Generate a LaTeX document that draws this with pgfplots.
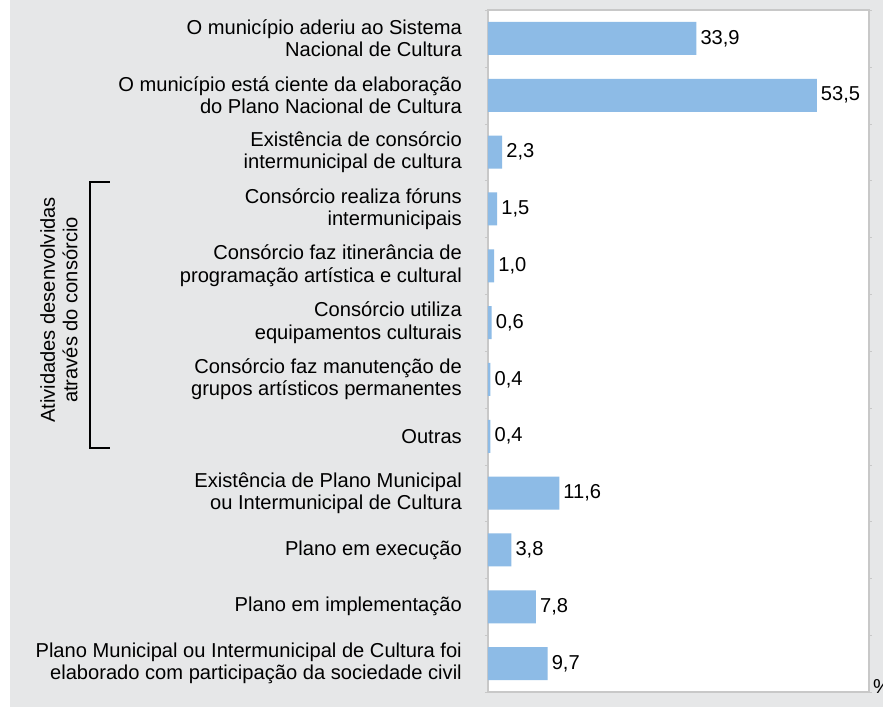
\documentclass[border=0pt]{standalone}
\usepackage{pgfplots}
\pgfplotsset{compat=1.18}
\usepackage{fontspec}
\setmainfont{Liberation Sans}
\definecolor{bggray}{HTML}{E6E7E8}
\definecolor{barblue}{HTML}{8DBBE6}
\definecolor{framegray}{HTML}{C8C8C8}
\newcommand\lbl{\fontsize{20.2}{22.5}\selectfont}

\begin{document}
\begin{tikzpicture}
\useasboundingbox (-488bp,-17bp) rectangle (395bp,692bp);
\fill[bggray] (-478bp,-15bp) rectangle (395bp,692bp);
\begin{axis}[
    at={(0,0)}, anchor=south west,
    scale only axis,
    width=381bp, height=682bp,
    xbar, bar width=33bp,
    xmin=0, xmax=62,
    ymin=-0.5, ymax=11.5,
    y dir=reverse,
    xtick=\empty,
    ytick={0,...,11},
    yticklabels={
      {O município aderiu ao Sistema\\Nacional de Cultura},
      {O município está ciente da elaboração\\do Plano Nacional de Cultura},
      {Existência de consórcio\\intermunicipal de cultura},
      {Consórcio realiza fóruns\\intermunicipais},
      {Consórcio faz itinerância de\\programação artística e cultural},
      {Consórcio utiliza\\equipamentos culturais},
      {Consórcio faz manutenção de\\grupos artísticos permanentes},
      {Outras},
      {Existência de Plano Municipal\\ou Intermunicipal de Cultura},
      {Plano em execução},
      {Plano em implementação},
      {Plano Municipal ou Intermunicipal de Cultura foi\\elaborado com participação da sociedade civil}
    },
    yticklabel style={font=\lbl, align=right, inner sep=0pt, xshift=-26bp},
    major tick length=0pt,
    minor ytick={-0.5,0.5,...,11.5},
    minor tick length=3bp,
    tick align=outside,
    minor tick style={framegray},
    axis line style={framegray, line width=1.2bp},
    axis background/.style={fill=white},
    point meta=x,
    nodes near coords,
    every node near coord/.append style={font=\lbl, black, inner sep=0pt, xshift=4bp,
      /pgf/number format/fixed, /pgf/number format/fixed zerofill,
      /pgf/number format/precision=1, /pgf/number format/use comma,
      /pgf/number format/assume math mode=true},
]
\addplot[fill=barblue, draw=none] coordinates {
  (33.9,0) (53.5,1) (2.3,2) (1.5,3) (1.0,4) (0.6,5)
  (0.4,6) (0.4,7) (11.6,8) (3.8,9) (7.8,10) (9.7,11)
};
\end{axis}
% bracket for the consortium activities
\draw[line width=1.2bp] (-378bp,510bp) -- (-398bp,510bp) -- (-398bp,244bp) -- (-378bp,244bp);
\node[rotate=90, align=center, font=\lbl] at (-429bp,382bp) {Atividades desenvolvidas\\através do consórcio};
\node[anchor=west, font=\lbl, inner sep=0pt] at (385bp,5bp) {\%};
\end{tikzpicture}
\end{document}
